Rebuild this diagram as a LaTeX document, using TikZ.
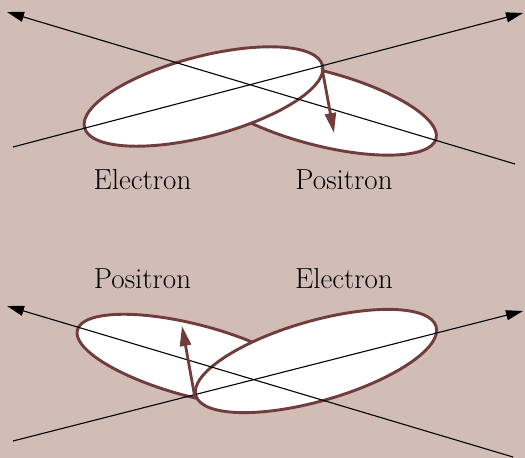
\documentclass[tikz,border=0pt]{standalone}
\usetikzlibrary{arrows.meta}
\definecolor{bg}{RGB}{209,189,182}
\definecolor{rim}{RGB}{112,60,60}
\begin{document}
\begin{tikzpicture}[x=1pt,y=-1pt,
  ray/.style={black,line width=1.1pt,-{Triangle[length=17pt,width=10pt]}},
  spin/.style={rim,line width=2.8pt,-{Triangle[length=20pt,width=11pt]}},
  lobe/.style={draw=rim,fill=white,line width=2.9pt},
  lbl/.style={anchor=base,inner sep=0pt,font=\fontsize{29}{33}\selectfont}]
\fill[bg] (0,0) rectangle (525,458);
\useasboundingbox (0,0) rectangle (525,458);
% ---------- top panel ----------
\coordinate (pt) at (319,108);
\coordinate (et) at (203.5,96.5);
\draw[lobe,rotate around={-14.7:(pt)}] (pt) ellipse [x radius=121pt,y radius=37pt];
\draw[lobe,rotate around={14.7:(et)}] (et) ellipse [x radius=123pt,y radius=40pt];
\coordinate (a1) at (13,147);
\coordinate (a2) at (523,13);
\coordinate (b1) at (515,164);
\coordinate (b2) at (7,12);
\draw[ray] (a1) -- (a2);
\draw[ray] (b1) -- (b2);
\coordinate (s1) at (322,68);
\coordinate (s2) at (334,133);
\draw[spin] (s1) -- (s2);
\node[lbl] (le1) at (142.5,189.5) {Electron};
\node[lbl] (lp1) at (344,189.5) {Positron};
% ---------- bottom panel ----------
\coordinate (pb) at (194.4,360.7);
\coordinate (eb) at (316,361);
\draw[lobe,rotate around={-14.7:(pb)}] (pb) ellipse [x radius=121pt,y radius=36pt];
\draw[lobe,rotate around={16:(eb)}] (eb) ellipse [x radius=125pt,y radius=40pt];
\coordinate (c1) at (13,441);
\coordinate (c2) at (523,311);
\coordinate (d1) at (513,457);
\coordinate (d2) at (7,306);
\draw[ray] (c1) -- (c2);
\draw[ray] (d1) -- (d2);
\coordinate (t1) at (195,398);
\coordinate (t2) at (182,326);
\draw[spin] (t1) -- (t2);
\node[lbl] (lp2) at (142.5,288) {Positron};
\node[lbl] (le2) at (344,288) {Electron};
\end{tikzpicture}
\end{document}
